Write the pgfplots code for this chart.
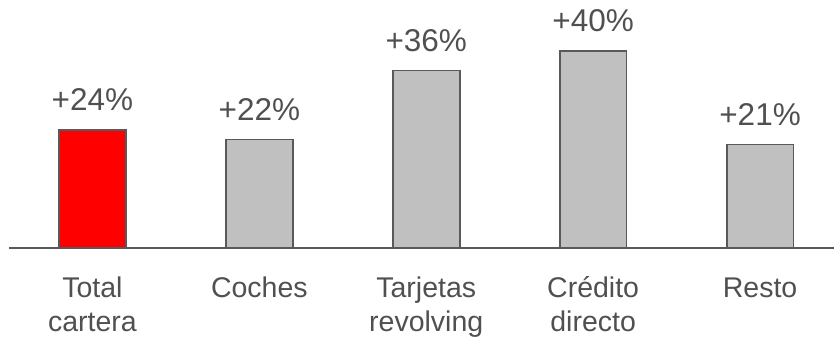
\documentclass[border=0pt]{standalone}
\usepackage{pgfplots}
\pgfplotsset{compat=1.18}
\usepackage{fontspec}
\setmainfont{Liberation Sans}
\definecolor{txt}{HTML}{505050}
\definecolor{edge}{HTML}{595959}
\definecolor{barg}{HTML}{C0C0C0}
\definecolor{barr}{HTML}{FF0000}

\begin{document}
\begin{tikzpicture}
\begin{axis}[
  name=ax,
  scale only axis,
  width=825pt, height=246.5pt,
  xmin=-0.5, xmax=4.443, ymin=0, ymax=50,
  axis y line=none,
  axis x line*=bottom,
  x axis line style={-, edge, line width=1.5pt},
  xtick={0,1,2,3,4},
  % every label has two lines so that the base anchor sits on the second one
  xticklabels={Total\\cartera, Coches\\\mbox{}, Tarjetas\\revolving, Crédito\\directo, Resto\\\mbox{}},
  major tick length=0pt,
  xticklabel style={font=\fontsize{28.5}{34}\selectfont, text=txt, align=center,
                    anchor=base, inner sep=0pt, yshift=-84pt},
  /pgf/number format/assume math mode=true,
  ybar, bar shift=0pt, bar width=0.4,
  nodes near coords={+\pgfmathprintnumber{\pgfplotspointmeta}\%},
  nodes near coords style={font=\fontsize{31.5}{31.5}\selectfont, text=txt,
                           anchor=base, inner sep=0pt, yshift=19pt},
  clip=false,
]
\addplot[fill=barr, draw=edge, line width=1.8pt] coordinates {(0,24)};
\addplot[fill=barg, draw=edge, line width=1.8pt] coordinates {(1,22) (2,36) (3,40) (4,21)};
\end{axis}
\pgfresetboundingbox
\path ([shift={(-9pt,-91pt)}]ax.south west) rectangle ([yshift=1.5pt]ax.north east);
\end{tikzpicture}
\end{document}
